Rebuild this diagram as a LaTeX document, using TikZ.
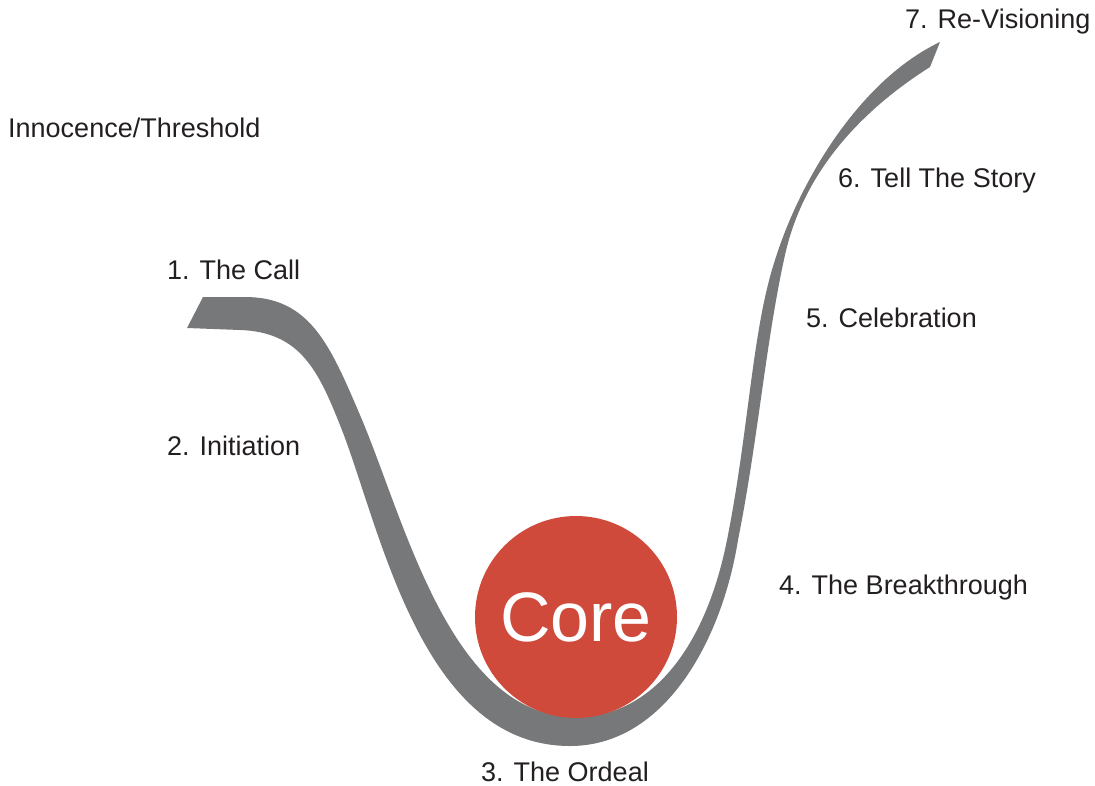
\documentclass[tikz,border=0pt]{standalone}
\usepackage{fontspec}
\setmainfont{Liberation Sans}

\definecolor{ribbon}{HTML}{77787A}
\definecolor{corered}{HTML}{D04A3C}
\definecolor{ink}{HTML}{231F20}

\begin{document}
\begin{tikzpicture}[x=1pt, y=-1pt,
	stage/.style={font=\fontsize{27}{32}\selectfont, text=ink, inner sep=0pt, anchor=west}]
	\useasboundingbox (0,0) rectangle (1095,785);

	% the path down and back up: inner edge out, outer edge back
	\fill[ribbon] (203,297) -- (245,297)
		.. controls (310,297) and (330,345) .. (360,415)
		.. controls (405,520) and (450,717) .. (576,717)
		.. controls (650,717) and (705,650) .. (727,540)
		.. controls (749,430) and (752,330) .. (775,260)
		.. controls (800,180) and (860,80) .. (940,42)
		-- (930,67)
		.. controls (870,105) and (805,165) .. (785,255)
		.. controls (766,340) and (758,440) .. (738,540)
		.. controls (722,640) and (665,746) .. (570,746)
		.. controls (420,746) and (380,525) .. (340,425)
		.. controls (318,370) and (300,332) .. (240,330)
		-- (187,328) -- cycle;

	\node[circle, fill=corered, minimum size=202pt, inner sep=0pt, text=white, font=\fontsize{70}{80}\selectfont] (core) at (576,617) {Core};

	\node[stage] (threshold) at (8,128) {Innocence/Threshold};
	\node[stage] (call) at (167,270) {1. The Call};
	\node[stage] (initiation) at (167,446) {2. Initiation};
	\node[stage, anchor=base west, text depth=0pt] (ordeal) at (481,781) {3. The Ordeal};
	\node[stage] (breakthrough) at (779,588) {4. The Breakthrough};
	\node[stage] (celebration) at (806,318) {5. Celebration};
	\node[stage] (story) at (838,181) {6. Tell The Story};
	\node[stage] (revision) at (905,22) {7. Re-Visioning};
\end{tikzpicture}
\end{document}
